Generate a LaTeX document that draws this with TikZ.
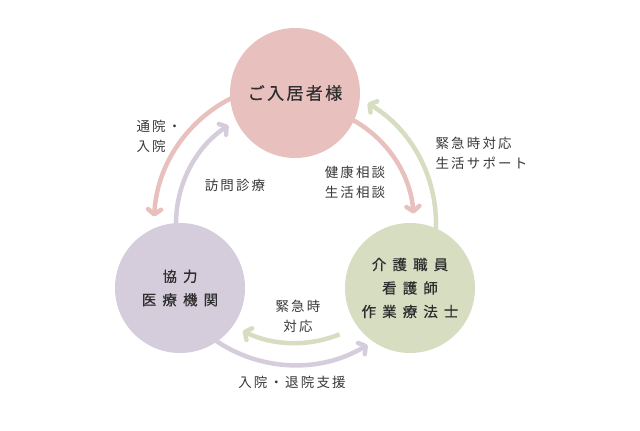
\documentclass[tikz,border=0pt]{standalone}
\usepackage{fontspec}
\newfontfamily\jplabel[LetterSpace=16]{Noto Sans CJK JP}
\newfontfamily\jpcircle[LetterSpace=42, FakeBold=0.5]{Noto Sans CJK JP}
\newfontfamily\jptop[LetterSpace=14, FakeBold=0.5]{Noto Sans CJK JP}
\usetikzlibrary{arrows.meta, positioning, backgrounds}

\definecolor{rosefill}{HTML}{E8C1BF}
\definecolor{lilacfill}{HTML}{D5CDDB}
\definecolor{sagefill}{HTML}{D6DDC1}
\definecolor{inktext}{HTML}{2E2E2E}
\definecolor{notetext}{HTML}{383838}

\tikzset{
    party/.style={circle, minimum size=130pt, inner sep=0pt, text=inktext, align=center},
    flow/.style={line width=4.5pt, -{Straight Barb[length=5pt, width=13pt, round]}},
    note/.style={text=notetext, font=\jplabel\fontsize{13.5}{20}\selectfont}
}

\begin{document}
\begin{tikzpicture}[x=1pt, y=1pt]
    \useasboundingbox (0,0) rectangle (640,431);

    % the three parties
    \node[party, fill=rosefill, font=\jptop\fontsize{17}{22}\selectfont] (resident) at (295,338) {ご入居者様};
    \node[party, fill=lilacfill, font=\jpcircle\fontsize{14.5}{23.5}\selectfont] (clinic) at (180,143) {協力\\医療機関};
    \node[party, fill=sagefill, font=\jpcircle\fontsize{14.5}{23.5}\selectfont] (staff) at (410,143) {介護職員\\看護師\\作業療法士};

    % centre of the ring of arcs
    \coordinate (hub) at (295,207);

    % arcs run behind the circles
    \begin{scope}[on background layer]
        \draw[flow, rosefill] (hub) ++(110:141) coordinate (visitA) arc[start angle=110, end angle=177, radius=141];
        \draw[flow, lilacfill] (hub) ++(188:119) coordinate (visitB) arc[start angle=188, end angle=124, radius=119];
        \draw[flow, rosefill] (hub) ++(68:119) coordinate (careA) arc[start angle=68, end angle=5, radius=119];
        \draw[flow, sagefill] (hub) ++(-10:141) coordinate (careB) arc[start angle=-10, end angle=59, radius=141];
        \draw[flow, sagefill] (hub) ++(292:119) coordinate (urgent) arc[start angle=292, end angle=244, radius=119];
        \draw[flow, lilacfill] (hub) ++(230:141) coordinate (admit) arc[start angle=230, end angle=301, radius=141];
    \end{scope}

    % labels
    \node[note, align=left, anchor=west] (outpatient) at (133,295) {通院・\\入院};
    \node[note] (homevisit) at (235,246) {訪問診療};
    \node[note, align=left] (consult) at (355,249) {健康相談\\生活相談};
    \node[note, align=left, anchor=west] (support) at (432,278) {緊急時対応\\生活サポート};
    \node[note, align=center] (emergency) at (298,115) {緊急時\\対応};
    \node[note] (discharge) at (292,49) {入院・退院支援};
\end{tikzpicture}
\end{document}
